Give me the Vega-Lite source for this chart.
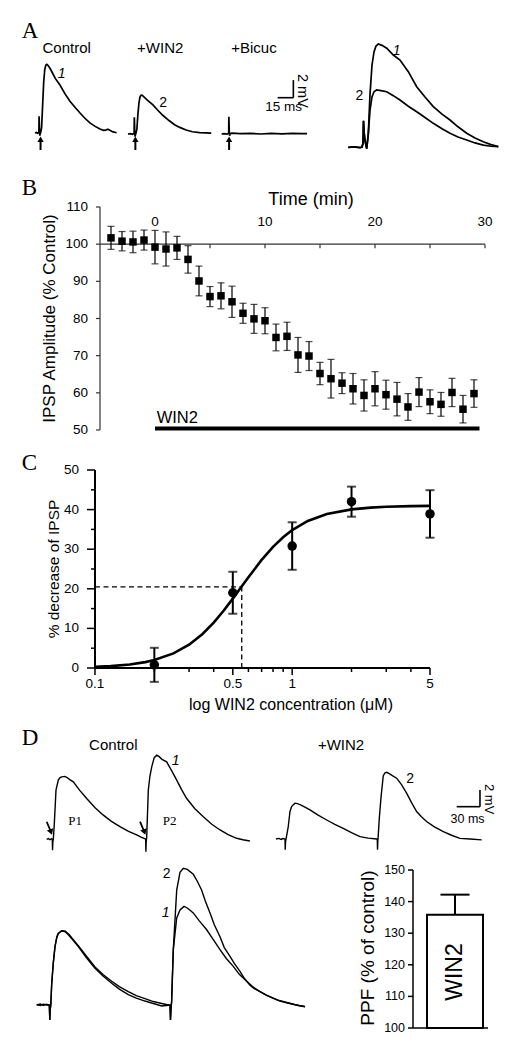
{
"$schema": "https://vega.github.io/schema/vega-lite/v6.json",
"padding": 0,
"background": "white",
"config": {"view": {"stroke": null}, "font": "Liberation Sans", "text": {"font": "Liberation Sans", "color": "black"}},
"datasets": {
  "a1": [{"t":-4.3,"v":0},{"t":-3,"v":0.05},{"t":-2,"v":-0.03},{"t":-1,"v":0.03},{"t":-0.6,"v":0.1},{"t":-0.4,"v":1.9},{"t":-0.2,"v":1.2},{"t":0,"v":0.3},{"t":0.3,"v":-0.3},{"t":0.7,"v":-0.1},{"t":1.2,"v":0.1},{"t":2,"v":0.6},{"t":3,"v":3.2},{"t":4,"v":5.8},{"t":5,"v":7.2},{"t":6,"v":7.7},{"t":7,"v":7.8},{"t":8,"v":7.7},{"t":10,"v":7.35},{"t":12,"v":6.9},{"t":15,"v":6.2},{"t":19.5,"v":5.45},{"t":24,"v":4.5},{"t":29,"v":3.6},{"t":34,"v":2.9},{"t":38.6,"v":2.27},{"t":43,"v":1.7},{"t":48,"v":1.14},{"t":53,"v":0.75},{"t":57.6,"v":0.45},{"t":61,"v":0.3},{"t":63,"v":0.32},{"t":65,"v":0.42},{"t":67,"v":0.3},{"t":70,"v":0.12},{"t":73.5,"v":0.03}],
  "a2": [{"t":-6.5,"v":0},{"t":-4,"v":0.03},{"t":-2,"v":-0.03},{"t":-0.6,"v":0.1},{"t":-0.4,"v":1.9},{"t":-0.2,"v":1.2},{"t":0,"v":0.3},{"t":0.3,"v":-0.3},{"t":0.7,"v":-0.1},{"t":1.2,"v":0.1},{"t":2,"v":0.5},{"t":3,"v":2.2},{"t":4,"v":3.5},{"t":5,"v":4.2},{"t":6,"v":4.4},{"t":7,"v":4.42},{"t":9,"v":4.2},{"t":12,"v":3.85},{"t":17.4,"v":3.3},{"t":22,"v":2.7},{"t":27,"v":2.1},{"t":33,"v":1.5},{"t":38,"v":1.05},{"t":43,"v":0.75},{"t":49,"v":0.45},{"t":55,"v":0.25},{"t":62,"v":0.15},{"t":68,"v":0.12},{"t":73,"v":0.1}],
  "a3": [{"t":-7.3,"v":0},{"t":-5,"v":0.05},{"t":-2,"v":-0.02},{"t":-0.6,"v":0.1},{"t":-0.4,"v":1.95},{"t":-0.2,"v":1.0},{"t":0,"v":0.2},{"t":0.3,"v":-0.2},{"t":0.7,"v":0.05},{"t":3,"v":0.1},{"t":10,"v":0.05},{"t":20,"v":0.08},{"t":30,"v":0.0},{"t":40,"v":0.06},{"t":50,"v":0.02},{"t":60,"v":0.07},{"t":70,"v":0.04},{"t":74,"v":0.05}],
  "a4": [
    {"trace":"1","t":-7.85,"v":0},{"trace":"1","t":-5,"v":0.03},{"trace":"1","t":-2,"v":-0.03},{"trace":"1","t":-1,"v":0.02},{"trace":"1","t":-0.5,"v":0.3},{"trace":"1","t":-0.25,"v":2.0},{"trace":"1","t":0,"v":1.2},{"trace":"1","t":0.5,"v":0.5},{"trace":"1","t":1.35,"v":-0.1},{"trace":"1","t":2.15,"v":1.0},{"trace":"1","t":3,"v":4.0},{"trace":"1","t":4,"v":6.2},{"trace":"1","t":5,"v":7.2},{"trace":"1","t":6,"v":7.65},{"trace":"1","t":7.15,"v":7.8},{"trace":"1","t":9,"v":7.7},{"trace":"1","t":11.35,"v":7.48},{"trace":"1","t":14.65,"v":6.97},{"trace":"1","t":18,"v":6.59},{"trace":"1","t":22.15,"v":5.71},{"trace":"1","t":26.35,"v":4.58},{"trace":"1","t":30.5,"v":3.8},{"trace":"1","t":34.65,"v":3.07},{"trace":"1","t":39,"v":2.5},{"trace":"1","t":43,"v":2.06},{"trace":"1","t":47,"v":1.55},{"trace":"1","t":51.35,"v":1.06},{"trace":"1","t":55.5,"v":0.7},{"trace":"1","t":59.65,"v":0.42},{"trace":"1","t":63.5,"v":0.2},{"trace":"1","t":67.15,"v":0.05},
    {"trace":"2","t":-7.85,"v":0},{"trace":"2","t":-5,"v":0.03},{"trace":"2","t":-2,"v":-0.03},{"trace":"2","t":-1,"v":0.02},{"trace":"2","t":-0.5,"v":0.3},{"trace":"2","t":-0.25,"v":2.0},{"trace":"2","t":0,"v":1.2},{"trace":"2","t":0.5,"v":0.5},{"trace":"2","t":1.35,"v":-0.1},{"trace":"2","t":2.15,"v":1.0},{"trace":"2","t":3,"v":2.8},{"trace":"2","t":4,"v":3.8},{"trace":"2","t":5,"v":4.2},{"trace":"2","t":6.3,"v":4.33},{"trace":"2","t":8.5,"v":4.28},{"trace":"2","t":11.35,"v":4.2},{"trace":"2","t":14.65,"v":3.9},{"trace":"2","t":18,"v":3.57},{"trace":"2","t":22.15,"v":3.1},{"trace":"2","t":26.35,"v":2.69},{"trace":"2","t":30.5,"v":2.25},{"trace":"2","t":34.65,"v":1.81},{"trace":"2","t":39,"v":1.4},{"trace":"2","t":43,"v":1.06},{"trace":"2","t":47,"v":0.78},{"trace":"2","t":51.35,"v":0.55},{"trace":"2","t":55.5,"v":0.33},{"trace":"2","t":59.65,"v":0.17},{"trace":"2","t":63.5,"v":0.08},{"trace":"2","t":67.15,"v":0.05}],
  "tc": [{"t":-4,"v":101.7,"e":3.1},{"t":-3,"v":100.8,"e":2.6},{"t":-2,"v":100.6,"e":2.9},{"t":-1,"v":101.1,"e":2.7},{"t":0,"v":99.2,"e":4.5},{"t":1,"v":98.7,"e":4.6},{"t":2,"v":99.0,"e":3.1},{"t":3,"v":95.9,"e":3.7},{"t":4,"v":90.1,"e":4.0},{"t":5,"v":85.9,"e":2.7},{"t":6,"v":86.1,"e":3.5},{"t":7,"v":84.5,"e":4.2},{"t":8,"v":81.4,"e":2.7},{"t":9,"v":79.9,"e":3.9},{"t":10,"v":79.4,"e":3.5},{"t":11,"v":74.9,"e":3.6},{"t":12,"v":75.2,"e":3.8},{"t":13,"v":70.2,"e":4.7},{"t":14,"v":69.9,"e":3.9},{"t":15,"v":65.2,"e":3.0},{"t":16,"v":63.8,"e":5.2},{"t":17,"v":62.6,"e":2.8},{"t":18,"v":61.1,"e":4.1},{"t":19,"v":59.3,"e":4.2},{"t":20,"v":61.1,"e":4.6},{"t":21,"v":59.5,"e":3.9},{"t":22,"v":58.3,"e":4.5},{"t":23,"v":56.2,"e":3.6},{"t":24,"v":60.2,"e":3.9},{"t":25,"v":57.6,"e":3.2},{"t":26,"v":56.9,"e":3.2},{"t":27,"v":60.1,"e":3.8},{"t":28,"v":55.6,"e":3.7},{"t":29,"v":59.8,"e":3.7}],
  "bTicksY": [{"v":50,"t":-5.3636,"t2":-5,"tl":-6.0909},{"v":60,"t":-5.3636,"t2":-5,"tl":-6.0909},{"v":70,"t":-5.3636,"t2":-5,"tl":-6.0909},{"v":80,"t":-5.3636,"t2":-5,"tl":-6.0909},{"v":90,"t":-5.3636,"t2":-5,"tl":-6.0909},{"v":100,"t":-5.3636,"t2":-5,"tl":-6.0909},{"v":110,"t":-5.3636,"t2":-5,"tl":-6.0909}],
  "bTicksX": [{"t":0,"v":100,"v2":98.92},{"t":5,"v":100,"v2":98.92},{"t":10,"v":100,"v2":98.92},{"t":15,"v":100,"v2":98.92},{"t":20,"v":100,"v2":98.92},{"t":25,"v":100,"v2":98.92},{"t":30,"v":100,"v2":98.92}],
  "bLabX": [{"t":0,"v":104.89},{"t":10,"v":104.89},{"t":20,"v":104.89},{"t":30,"v":104.89}],
  "cpts": [{"c":0.2,"v":0.8,"e":4.3},{"c":0.5,"v":19,"e":5.3},{"c":1,"v":30.8,"e":6},{"c":2,"v":42,"e":3.8},{"c":5,"v":38.9,"e":6}],
  "ccurve": [{"c":0.1,"v":0.28},{"c":0.12,"v":0.47},{"c":0.15,"v":0.89},{"c":0.18,"v":1.49},{"c":0.2,"v":2.0},{"c":0.25,"v":3.68},{"c":0.3,"v":5.89},{"c":0.35,"v":8.54},{"c":0.4,"v":11.47},{"c":0.45,"v":14.51},{"c":0.5,"v":17.51},{"c":0.553,"v":20.5},{"c":0.6,"v":22.93},{"c":0.7,"v":27.29},{"c":0.8,"v":30.59},{"c":0.9,"v":33.03},{"c":1.0,"v":34.83},{"c":1.2,"v":37.13},{"c":1.5,"v":38.89},{"c":2.0,"v":40.06},{"c":2.5,"v":40.5},{"c":3,"v":40.71},{"c":4,"v":40.87},{"c":5,"v":40.93}],
  "cYmaj": [{"v":0,"c":0.09108,"c2":0.1,"cl":0.08295},{"v":10,"c":0.09108,"c2":0.1,"cl":0.08295},{"v":20,"c":0.09108,"c2":0.1,"cl":0.08295},{"v":30,"c":0.09108,"c2":0.1,"cl":0.08295},{"v":40,"c":0.09108,"c2":0.1,"cl":0.08295},{"v":50,"c":0.09108,"c2":0.1,"cl":0.08295}],
  "cYmin": [{"v":5,"c":0.09544,"c2":0.1},{"v":15,"c":0.09544,"c2":0.1},{"v":25,"c":0.09544,"c2":0.1},{"v":35,"c":0.09544,"c2":0.1},{"v":45,"c":0.09544,"c2":0.1}],
  "cXmaj": [{"c":0.1,"v":0,"v2":-1.768,"vl":-4.04,"lab":"0.1"},{"c":0.5,"v":0,"v2":-1.768,"vl":-4.04,"lab":"0.5"},{"c":1,"v":0,"v2":-1.768,"vl":-4.04,"lab":"1"},{"c":5,"v":0,"v2":-1.768,"vl":-4.04,"lab":"5"}],
  "cXmin": [{"c":0.2,"v":0,"v2":-1.01},{"c":0.3,"v":0,"v2":-1.01},{"c":0.4,"v":0,"v2":-1.01},{"c":0.6,"v":0,"v2":-1.01},{"c":0.7,"v":0,"v2":-1.01},{"c":0.8,"v":0,"v2":-1.01},{"c":0.9,"v":0,"v2":-1.01},{"c":2,"v":0,"v2":-1.01},{"c":3,"v":0,"v2":-1.01},{"c":4,"v":0,"v2":-1.01}],
  "d1": [{"t":-7.2,"v":0},{"t":-5,"v":0.08},{"t":-3,"v":-0.05},{"t":-1,"v":0.05},{"t":0,"v":0},{"t":0.3,"v":-1.3},{"t":0.7,"v":-0.3},{"t":1.3,"v":0},{"t":2.6,"v":1.9},{"t":4.75,"v":5.9},{"t":7.7,"v":7.1},{"t":10,"v":7.4},{"t":12.1,"v":7.5},{"t":16,"v":7.55},{"t":18.5,"v":7.45},{"t":22,"v":7.2},{"t":27,"v":6.9},{"t":35,"v":5.9},{"t":44.2,"v":4.9},{"t":55,"v":3.8},{"t":65.6,"v":2.9},{"t":76,"v":2.15},{"t":87,"v":1.52},{"t":98,"v":0.95},{"t":108.5,"v":0.52},{"t":114,"v":0.25},{"t":119.4,"v":0.05},{"t":120,"v":0},{"t":120.3,"v":-1.5},{"t":120.7,"v":-0.3},{"t":121.3,"v":0.2},{"t":123.4,"v":5.9},{"t":125.5,"v":7.6},{"t":127.8,"v":8.7},{"t":131,"v":9.8},{"t":134.2,"v":10.1},{"t":137,"v":9.95},{"t":141,"v":9.6},{"t":147,"v":9.3},{"t":153,"v":8.3},{"t":159.9,"v":7.1},{"t":166,"v":6.0},{"t":172.8,"v":4.9},{"t":183,"v":3.7},{"t":194.1,"v":2.7},{"t":205,"v":1.8},{"t":215.6,"v":1.12},{"t":226,"v":0.55},{"t":237,"v":0.12},{"t":245,"v":-0.05},{"t":254,"v":-0.2}],
  "d2": [{"t":-11.6,"v":0},{"t":-8,"v":0.07},{"t":-5,"v":-0.05},{"t":-2.6,"v":0.05},{"t":0,"v":0},{"t":0.3,"v":-1.3},{"t":0.7,"v":-0.3},{"t":1.3,"v":0},{"t":2.5,"v":0.6},{"t":4.2,"v":1.5},{"t":6.4,"v":3.3},{"t":8.5,"v":3.9},{"t":10.7,"v":4.1},{"t":12.9,"v":4.3},{"t":16,"v":4.25},{"t":20,"v":4.1},{"t":25,"v":3.85},{"t":32.1,"v":3.5},{"t":42,"v":2.9},{"t":53.6,"v":2.28},{"t":64,"v":1.75},{"t":74.9,"v":1.28},{"t":86,"v":0.75},{"t":96.4,"v":0.28},{"t":107,"v":0.1},{"t":117.8,"v":0},{"t":118.6,"v":0},{"t":118.9,"v":-1.3},{"t":119.3,"v":-0.3},{"t":119.9,"v":0.5},{"t":121.2,"v":2.5},{"t":123.4,"v":5.0},{"t":126.3,"v":7.6},{"t":128.5,"v":7.95},{"t":130.7,"v":8.0},{"t":134,"v":7.85},{"t":138,"v":7.6},{"t":143.5,"v":7.3},{"t":150,"v":6.5},{"t":156.3,"v":5.5},{"t":163,"v":4.3},{"t":169.2,"v":3.3},{"t":175,"v":2.7},{"t":182,"v":2.1},{"t":192,"v":1.45},{"t":203.5,"v":0.88},{"t":214,"v":0.45},{"t":224.9,"v":0.08},{"t":238,"v":0.0},{"t":252.8,"v":-0.1}],
  "d3": [
    {"trace":"1","t":-12.6,"v":0},{"trace":"1","t":-9,"v":0.1},{"trace":"1","t":-6,"v":-0.05},{"trace":"1","t":-3,"v":0.08},{"trace":"1","t":0,"v":0},{"trace":"1","t":0.5,"v":-1.5},{"trace":"1","t":1,"v":-0.4},{"trace":"1","t":1.5,"v":0},{"trace":"1","t":2.4,"v":2.2},{"trace":"1","t":4,"v":4.3},{"trace":"1","t":5.7,"v":5.9},{"trace":"1","t":7.5,"v":6.8},{"trace":"1","t":9,"v":7.2},{"trace":"1","t":12.4,"v":7.5},{"trace":"1","t":16,"v":7.4},{"trace":"1","t":20,"v":7.0},{"trace":"1","t":24,"v":6.5},{"trace":"1","t":29,"v":5.9},{"trace":"1","t":37,"v":4.8},{"trace":"1","t":45.7,"v":3.7},{"trace":"1","t":54,"v":2.9},{"trace":"1","t":62.4,"v":2.2},{"trace":"1","t":70,"v":1.6},{"trace":"1","t":79,"v":1.05},{"trace":"1","t":87,"v":0.7},{"trace":"1","t":95.7,"v":0.4},{"trace":"1","t":104,"v":0.15},{"trace":"1","t":112.4,"v":-0.1},{"trace":"1","t":117,"v":-0.05},{"trace":"1","t":120.7,"v":0},{"trace":"1","t":121.2,"v":-1.5},{"trace":"1","t":121.7,"v":-0.4},{"trace":"1","t":122.3,"v":0.3},{"trace":"1","t":124,"v":5.6},{"trace":"1","t":127.4,"v":8.8},{"trace":"1","t":130.7,"v":9.6},{"trace":"1","t":134.7,"v":9.96},{"trace":"1","t":138,"v":9.8},{"trace":"1","t":144,"v":9.3},{"trace":"1","t":150,"v":8.5},{"trace":"1","t":157.4,"v":7.6},{"trace":"1","t":164,"v":6.6},{"trace":"1","t":170.7,"v":5.6},{"trace":"1","t":177,"v":4.7},{"trace":"1","t":184,"v":3.9},{"trace":"1","t":190,"v":3.1},{"trace":"1","t":197.4,"v":2.4},{"trace":"1","t":204,"v":1.8},{"trace":"1","t":210.7,"v":1.35},{"trace":"1","t":217,"v":1.0},{"trace":"1","t":224,"v":0.7},{"trace":"1","t":230,"v":0.45},{"trace":"1","t":237.4,"v":0.25},{"trace":"1","t":245,"v":0.05},{"trace":"1","t":250,"v":-0.05},{"trace":"1","t":255.7,"v":-0.15},
    {"trace":"2","t":-12.6,"v":0.05},{"trace":"2","t":-9,"v":-0.05},{"trace":"2","t":-6,"v":0.08},{"trace":"2","t":-3,"v":0},{"trace":"2","t":0,"v":0},{"trace":"2","t":0.5,"v":-1.5},{"trace":"2","t":1,"v":-0.4},{"trace":"2","t":1.5,"v":0},{"trace":"2","t":2.4,"v":2.1},{"trace":"2","t":4,"v":4.2},{"trace":"2","t":5.7,"v":5.9},{"trace":"2","t":7.5,"v":6.9},{"trace":"2","t":9,"v":7.25},{"trace":"2","t":12.4,"v":7.5},{"trace":"2","t":16,"v":7.45},{"trace":"2","t":20,"v":7.1},{"trace":"2","t":24,"v":6.6},{"trace":"2","t":29,"v":6.0},{"trace":"2","t":37,"v":4.95},{"trace":"2","t":45.7,"v":3.85},{"trace":"2","t":54,"v":3.05},{"trace":"2","t":62.4,"v":2.4},{"trace":"2","t":70,"v":1.85},{"trace":"2","t":79,"v":1.35},{"trace":"2","t":87,"v":0.95},{"trace":"2","t":95.7,"v":0.65},{"trace":"2","t":104,"v":0.35},{"trace":"2","t":112.4,"v":0.15},{"trace":"2","t":117,"v":0.05},{"trace":"2","t":120.7,"v":0},{"trace":"2","t":121.2,"v":-1.5},{"trace":"2","t":121.7,"v":-0.4},{"trace":"2","t":122.3,"v":0.3},{"trace":"2","t":124,"v":5.6},{"trace":"2","t":127.4,"v":11.6},{"trace":"2","t":130.7,"v":13.4},{"trace":"2","t":134,"v":13.8},{"trace":"2","t":138,"v":13.7},{"trace":"2","t":144,"v":13.2},{"trace":"2","t":148,"v":12.5},{"trace":"2","t":152.4,"v":11.6},{"trace":"2","t":156,"v":10.5},{"trace":"2","t":160.7,"v":9.3},{"trace":"2","t":165,"v":8.1},{"trace":"2","t":170.7,"v":6.9},{"trace":"2","t":175,"v":5.8},{"trace":"2","t":180.7,"v":4.9},{"trace":"2","t":185,"v":4.2},{"trace":"2","t":190.7,"v":3.4},{"trace":"2","t":195,"v":2.7},{"trace":"2","t":200.7,"v":2.0},{"trace":"2","t":205,"v":1.65},{"trace":"2","t":210.7,"v":1.35},{"trace":"2","t":217,"v":1.0},{"trace":"2","t":224,"v":0.68},{"trace":"2","t":230,"v":0.42},{"trace":"2","t":237.4,"v":0.23},{"trace":"2","t":245,"v":0.05},{"trace":"2","t":250,"v":-0.08},{"trace":"2","t":255.7,"v":-0.17}],
  "ppf": [{"cond":"WIN2","ppf":135.8,"hi":142.2}],
  "dTicks": [{"v":100,"pos":-0.3393,"pos2":-0.25,"pl":-0.3929},{"v":110,"pos":-0.3393,"pos2":-0.25,"pl":-0.3929},{"v":120,"pos":-0.3393,"pos2":-0.25,"pl":-0.3929},{"v":130,"pos":-0.3393,"pos2":-0.25,"pl":-0.3929},{"v":140,"pos":-0.3393,"pos2":-0.25,"pl":-0.3929},{"v":150,"pos":-0.3393,"pos2":-0.25,"pl":-0.3929}]
},
"bounds": "flush",
"spacing": 0,
"vconcat": [
  {"width": 514, "height": 207,
   "resolve": {"scale": {"x": "independent", "y": "independent"}},
   "layer": [
    {"encoding": {"x": {"field": "t", "type": "quantitative", "scale": {"domain": [-37.62, 451.90], "nice": false, "zero": false}, "axis": null},
                  "y": {"field": "v", "type": "quantitative", "scale": {"domain": [-8.41, 15.11], "nice": false, "zero": false}, "axis": null}},
     "layer": [
       {"data": {"name": "a1"}, "mark": {"type": "line", "color": "black", "strokeWidth": 1.7}},
       {"data": {"values": [{"label": "A", "t": -16.95, "v": 10.8}]}, "mark": {"type": "text", "font": "Liberation Serif", "fontSize": 23, "align": "left", "baseline": "alphabetic"}, "encoding": {"text": {"field": "label"}}},
       {"data": {"values": [{"label": "Control", "t": 25.9, "v": 9.05}]}, "mark": {"type": "text", "fontSize": 15, "align": "center", "baseline": "alphabetic"}, "encoding": {"text": {"field": "label"}}},
       {"data": {"values": [{"label": "1", "t": 21.1, "v": 6.3}]}, "mark": {"type": "text", "fontSize": 14, "fontStyle": "italic", "align": "center", "baseline": "alphabetic"}, "encoding": {"text": {"field": "label"}}},
       {"data": {"values": [{"t": 1, "v": -0.75, "v2": -1.93}]}, "mark": {"type": "rule", "strokeWidth": 2, "color": "black"}, "encoding": {"y2": {"field": "v2"}}},
       {"data": {"values": [{"t": 1, "v": -0.7}]}, "mark": {"type": "point", "shape": "triangle-up", "filled": true, "size": 40, "color": "black", "opacity": 1}}
     ]},
    {"encoding": {"x": {"field": "t", "type": "quantitative", "scale": {"domain": [-128.57, 361.90], "nice": false, "zero": false}, "axis": null},
                  "y": {"field": "v", "type": "quantitative", "scale": {"domain": [-8.30, 15.23], "nice": false, "zero": false}, "axis": null}},
     "layer": [
       {"data": {"name": "a2"}, "mark": {"type": "line", "color": "black", "strokeWidth": 1.7}},
       {"data": {"values": [{"label": "+WIN2", "t": 24.3, "v": 9.17}]}, "mark": {"type": "text", "fontSize": 15, "align": "center", "baseline": "alphabetic"}, "encoding": {"text": {"field": "label"}}},
       {"data": {"values": [{"label": "2", "t": 27, "v": 3.1}]}, "mark": {"type": "text", "fontSize": 14, "align": "center", "baseline": "alphabetic"}, "encoding": {"text": {"field": "label"}}},
       {"data": {"values": [{"t": 0.6, "v": -0.7, "v2": -1.82}]}, "mark": {"type": "rule", "strokeWidth": 2, "color": "black"}, "encoding": {"y2": {"field": "v2"}}},
       {"data": {"values": [{"t": 0.6, "v": -0.6}]}, "mark": {"type": "point", "shape": "triangle-up", "filled": true, "size": 40, "color": "black", "opacity": 1}}
     ]},
    {"encoding": {"x": {"field": "t", "type": "quantitative", "scale": {"domain": [-218.38, 271.14], "nice": false, "zero": false}, "axis": null},
                  "y": {"field": "v", "type": "quantitative", "scale": {"domain": [-8.30, 15.23], "nice": false, "zero": false}, "axis": null}},
     "layer": [
       {"data": {"name": "a3"}, "mark": {"type": "line", "color": "black", "strokeWidth": 1.7}},
       {"data": {"values": [{"label": "+Bicuc", "t": 23.5, "v": 9.17}]}, "mark": {"type": "text", "fontSize": 15, "align": "center", "baseline": "alphabetic"}, "encoding": {"text": {"field": "label"}}},
       {"data": {"values": [{"t": -0.2, "v": -0.7, "v2": -1.82}]}, "mark": {"type": "rule", "strokeWidth": 2, "color": "black"}, "encoding": {"y2": {"field": "v2"}}},
       {"data": {"values": [{"t": -0.2, "v": -0.6}]}, "mark": {"type": "point", "shape": "triangle-up", "filled": true, "size": 40, "color": "black", "opacity": 1}},
       {"data": {"values": [{"t": 46, "t2": 61, "v": 4.125}]}, "mark": {"type": "rule", "strokeWidth": 1.6, "color": "black"}, "encoding": {"x2": {"field": "t2"}}},
       {"data": {"values": [{"t": 61, "v": 4.125, "v2": 6.125}]}, "mark": {"type": "rule", "strokeWidth": 1.6, "color": "black"}, "encoding": {"y2": {"field": "v2"}}},
       {"data": {"values": [{"label": "15 ms", "t": 51.8, "v": 3.1}]}, "mark": {"type": "text", "fontSize": 13.5, "align": "center", "baseline": "middle"}, "encoding": {"text": {"field": "label"}}},
       {"data": {"values": [{"label": "2 mV", "t": 68.95, "v": 4.9}]}, "mark": {"type": "text", "fontSize": 14.5, "angle": 90, "align": "center", "baseline": "middle"}, "encoding": {"text": {"field": "label"}}}
     ]},
    {"encoding": {"x": {"field": "t", "type": "quantitative", "scale": {"domain": [-182, 75], "nice": false, "zero": false}, "axis": null},
                  "y": {"field": "v", "type": "quantitative", "scale": {"domain": [-4.509, 11.125], "nice": false, "zero": false}, "axis": null}},
     "layer": [
       {"data": {"name": "a4"}, "mark": {"type": "line", "color": "black", "strokeWidth": 1.7}, "encoding": {"detail": {"field": "trace"}}},
       {"data": {"values": [{"label": "1", "t": 16.35, "v": 6.97}]}, "mark": {"type": "text", "fontSize": 14, "fontStyle": "italic", "align": "center", "baseline": "alphabetic"}, "encoding": {"text": {"field": "label"}}},
       {"data": {"values": [{"label": "2", "t": -2.35, "v": 3.57}]}, "mark": {"type": "text", "fontSize": 14, "align": "center", "baseline": "alphabetic"}, "encoding": {"text": {"field": "label"}}}
     ]}
   ]},

  {"width": 514, "height": 223,
   "encoding": {"x": {"field": "t", "type": "quantitative", "scale": {"domain": [-14.0909, 32.6364], "nice": false, "zero": false}, "axis": null},
                "y": {"field": "v", "type": "quantitative", "scale": {"domain": [50, 110], "nice": false, "zero": false}, "axis": null}},
   "layer": [
     {"data": {"values": [{"t": -5, "v": 50, "v2": 110}]}, "mark": {"type": "rule", "strokeWidth": 1.2, "color": "#333"}, "encoding": {"y2": {"field": "v2"}}},
     {"data": {"values": [{"t": -5, "t2": 30, "v": 100}]}, "mark": {"type": "rule", "strokeWidth": 1.2, "color": "#333"}, "encoding": {"x2": {"field": "t2"}}},
     {"data": {"name": "bTicksY"}, "mark": {"type": "rule", "strokeWidth": 1.2, "color": "#333"}, "encoding": {"x2": {"field": "t2"}}},
     {"data": {"name": "bTicksY"}, "mark": {"type": "text", "fontSize": 13.5, "align": "right", "baseline": "middle"}, "encoding": {"x": {"field": "tl", "type": "quantitative"}, "text": {"field": "v", "type": "quantitative"}}},
     {"data": {"name": "bTicksX"}, "mark": {"type": "rule", "strokeWidth": 1.2, "color": "#333"}, "encoding": {"y2": {"field": "v2"}}},
     {"data": {"name": "bLabX"}, "mark": {"type": "text", "fontSize": 13.5, "align": "center", "baseline": "alphabetic"}, "encoding": {"text": {"field": "t", "type": "quantitative"}}},
     {"data": {"values": [{"label": "Time (min)", "t": 14.18, "v": 110.54}]}, "mark": {"type": "text", "fontSize": 18, "align": "center", "baseline": "alphabetic"}, "encoding": {"text": {"field": "label"}}},
     {"data": {"values": [{"label": "IPSP Amplitude (% Control)", "t": -9.064, "v": 80}]}, "mark": {"type": "text", "fontSize": 17, "angle": 270, "align": "center", "baseline": "alphabetic"}, "encoding": {"text": {"field": "label"}}},
     {"data": {"name": "tc"}, "mark": {"type": "errorbar", "ticks": true, "size": 7, "thickness": 1.2, "color": "black"}, "encoding": {"yError": {"field": "e"}}},
     {"data": {"name": "tc"}, "mark": {"type": "point", "shape": "square", "filled": true, "size": 56, "color": "black", "opacity": 1}},
     {"data": {"values": [{"t": 0, "t2": 29.5, "v": 50.4}]}, "mark": {"type": "rule", "strokeWidth": 4, "color": "black"}, "encoding": {"x2": {"field": "t2"}}},
     {"data": {"values": [{"label": "WIN2", "t": 0.15, "v": 51.8}]}, "mark": {"type": "text", "fontSize": 16.5, "align": "left", "baseline": "alphabetic"}, "encoding": {"text": {"field": "label"}}},
     {"data": {"values": [{"label": "B", "t": -12.12, "v": 113.23}]}, "mark": {"type": "text", "font": "Liberation Serif", "fontSize": 23, "align": "left", "baseline": "alphabetic"}, "encoding": {"text": {"field": "label"}}}
   ]},

  {"width": 514, "height": 40, "data": {"values": [{}]}, "mark": {"type": "point", "opacity": 0}},

  {"width": 514, "height": 198,
   "encoding": {"x": {"field": "c", "type": "quantitative", "scale": {"type": "log", "domain": [0.032984, 13.335], "nice": false}, "axis": null},
                "y": {"field": "v", "type": "quantitative", "scale": {"domain": [0, 50], "nice": false, "zero": false}, "axis": null}},
   "layer": [
     {"data": {"values": [{"c": 0.1, "v": 0, "v2": 50}]}, "mark": {"type": "rule", "strokeWidth": 2, "color": "black"}, "encoding": {"y2": {"field": "v2"}}},
     {"data": {"values": [{"c": 0.1, "c2": 5, "v": 0}]}, "mark": {"type": "rule", "strokeWidth": 2, "color": "black"}, "encoding": {"x2": {"field": "c2"}}},
     {"data": {"name": "cYmaj"}, "mark": {"type": "rule", "strokeWidth": 1.5, "color": "black"}, "encoding": {"x2": {"field": "c2"}}},
     {"data": {"name": "cYmin"}, "mark": {"type": "rule", "strokeWidth": 1.5, "color": "black"}, "encoding": {"x2": {"field": "c2"}}},
     {"data": {"name": "cYmaj"}, "mark": {"type": "text", "fontSize": 13.5, "align": "right", "baseline": "middle"}, "encoding": {"x": {"field": "cl", "type": "quantitative"}, "text": {"field": "v", "type": "quantitative"}}},
     {"data": {"name": "cXmaj"}, "mark": {"type": "rule", "strokeWidth": 1.5, "color": "black"}, "encoding": {"y2": {"field": "v2"}}},
     {"data": {"name": "cXmin"}, "mark": {"type": "rule", "strokeWidth": 1.5, "color": "black"}, "encoding": {"y2": {"field": "v2"}}},
     {"data": {"name": "cXmaj"}, "mark": {"type": "text", "fontSize": 13.5, "align": "center", "baseline": "middle"}, "encoding": {"y": {"field": "vl", "type": "quantitative"}, "text": {"field": "lab", "type": "nominal"}}},
     {"data": {"values": [{"label": "log WIN2 concentration (μM)", "c": 0.98633, "v": -10.61}]}, "mark": {"type": "text", "fontSize": 16, "align": "center", "baseline": "alphabetic"}, "encoding": {"text": {"field": "label"}}},
     {"data": {"values": [{"label": "% decrease of IPSP", "c": 0.06592, "v": 25}]}, "mark": {"type": "text", "fontSize": 15.5, "angle": 270, "align": "center", "baseline": "alphabetic"}, "encoding": {"text": {"field": "label"}}},
     {"data": {"values": [{"c": 0.1, "c2": 0.555, "v": 20.5}]}, "mark": {"type": "rule", "strokeDash": [5, 3.5], "strokeWidth": 1.3, "color": "black"}, "encoding": {"x2": {"field": "c2"}}},
     {"data": {"values": [{"c": 0.555, "v": 0, "v2": 20.5}]}, "mark": {"type": "rule", "strokeDash": [5, 3.5], "strokeWidth": 1.3, "color": "black"}, "encoding": {"y2": {"field": "v2"}}},
     {"data": {"name": "ccurve"}, "mark": {"type": "line", "color": "black", "strokeWidth": 2.6}},
     {"data": {"name": "cpts"}, "mark": {"type": "errorbar", "ticks": true, "size": 9, "thickness": 2, "color": "black"}, "encoding": {"yError": {"field": "e"}}},
     {"data": {"name": "cpts"}, "mark": {"type": "point", "shape": "circle", "filled": true, "size": 90, "color": "black", "opacity": 1}},
     {"data": {"values": [{"label": "C", "c": 0.0425, "v": 50}]}, "mark": {"type": "text", "font": "Liberation Serif", "fontSize": 23, "align": "left", "baseline": "alphabetic"}, "encoding": {"text": {"field": "label"}}}
   ]},

  {"width": 514, "height": 202,
   "resolve": {"scale": {"x": "independent", "y": "independent"}},
   "layer": [
    {"encoding": {"x": {"field": "t", "type": "quantitative", "scale": {"domain": [-67.224, 593.44], "nice": false, "zero": false}, "axis": null},
                  "y": {"field": "v", "type": "quantitative", "scale": {"domain": [-3.685, 20.565], "nice": false, "zero": false}, "axis": null}},
     "layer": [
       {"data": {"name": "d1"}, "mark": {"type": "line", "color": "black", "strokeWidth": 1.4}},
       {"data": {"values": [{"label": "D", "t": -39.33, "v": 11.32}]}, "mark": {"type": "text", "font": "Liberation Serif", "fontSize": 23, "align": "left", "baseline": "alphabetic"}, "encoding": {"text": {"field": "label"}}},
       {"data": {"values": [{"label": "Control", "t": 78.4, "v": 10.78}]}, "mark": {"type": "text", "fontSize": 15, "align": "center", "baseline": "alphabetic"}, "encoding": {"text": {"field": "label"}}},
       {"data": {"values": [{"label": "P1", "t": 29.2, "v": 1.72}, {"label": "P2", "t": 150.9, "v": 1.72}]}, "mark": {"type": "text", "font": "Liberation Serif", "fontSize": 13, "align": "center", "baseline": "alphabetic"}, "encoding": {"text": {"field": "label"}}},
       {"data": {"values": [{"label": "1", "t": 158.6, "v": 8.92}]}, "mark": {"type": "text", "fontSize": 14, "fontStyle": "italic", "align": "center", "baseline": "alphabetic"}, "encoding": {"text": {"field": "label"}}},
       {"data": {"values": [{"t": -7.2, "t2": -1.67, "v": 2.11, "v2": 0.876}, {"t": 112.72, "t2": 118.38, "v": 2.11, "v2": 0.876}]}, "mark": {"type": "rule", "strokeWidth": 1.8, "color": "black"}, "encoding": {"x2": {"field": "t2"}, "y2": {"field": "v2"}}},
       {"data": {"values": [{"t": -1.67, "v": 0.876}, {"t": 118.38, "v": 0.876}]}, "mark": {"type": "point", "shape": "triangle-down", "angle": 340, "filled": true, "size": 45, "color": "black", "opacity": 1}}
     ]},
    {"encoding": {"x": {"field": "t", "type": "quantitative", "scale": {"domain": [-366.32, 294.34], "nice": false, "zero": false}, "axis": null},
                  "y": {"field": "v", "type": "quantitative", "scale": {"domain": [-3.721, 20.528], "nice": false, "zero": false}, "axis": null}},
     "layer": [
       {"data": {"name": "d2"}, "mark": {"type": "line", "color": "black", "strokeWidth": 1.4}},
       {"data": {"values": [{"label": "+WIN2", "t": 71.98, "v": 10.74}]}, "mark": {"type": "text", "fontSize": 15, "align": "center", "baseline": "alphabetic"}, "encoding": {"text": {"field": "label"}}},
       {"data": {"values": [{"label": "2", "t": 160.7, "v": 6.76}]}, "mark": {"type": "text", "fontSize": 14, "align": "center", "baseline": "alphabetic"}, "encoding": {"text": {"field": "label"}}},
       {"data": {"values": [{"t": 220.7, "t2": 250.6, "v": 3.88}]}, "mark": {"type": "rule", "strokeWidth": 1.6, "color": "black"}, "encoding": {"x2": {"field": "t2"}}},
       {"data": {"values": [{"t": 250.6, "v": 3.88, "v2": 5.88}]}, "mark": {"type": "rule", "strokeWidth": 1.6, "color": "black"}, "encoding": {"y2": {"field": "v2"}}},
       {"data": {"values": [{"label": "30 ms", "t": 234.6, "v": 2.4}]}, "mark": {"type": "text", "fontSize": 12.5, "align": "center", "baseline": "middle"}, "encoding": {"text": {"field": "label"}}},
       {"data": {"values": [{"label": "2 mV", "t": 261.8, "v": 4.78}]}, "mark": {"type": "text", "fontSize": 13, "angle": 90, "align": "center", "baseline": "middle"}, "encoding": {"text": {"field": "label"}}}
     ]}
   ]},

  {"width": 514, "height": 158,
   "resolve": {"scale": {"x": "independent", "y": "independent"}},
   "layer": [
    {"encoding": {"x": {"field": "t", "type": "quantitative", "scale": {"domain": [-49.3, 464.7], "nice": false, "zero": false}, "axis": null},
                  "y": {"field": "v", "type": "quantitative", "scale": {"domain": [-2.323, 13.636], "nice": false, "zero": false}, "axis": null}},
     "layer": [
       {"data": {"name": "d3"}, "mark": {"type": "line", "color": "black", "strokeWidth": 1.4}, "encoding": {"detail": {"field": "trace"}}},
       {"data": {"values": [{"label": "2", "t": 117.4, "v": 12.83}]}, "mark": {"type": "text", "fontSize": 14, "align": "center", "baseline": "alphabetic"}, "encoding": {"text": {"field": "label"}}},
       {"data": {"values": [{"label": "1", "t": 116.4, "v": 8.89}]}, "mark": {"type": "text", "fontSize": 14, "fontStyle": "italic", "align": "center", "baseline": "alphabetic"}, "encoding": {"text": {"field": "label"}}}
     ]},
    {"data": {"name": "ppf"},
     "encoding": {"x": {"field": "cond", "type": "nominal", "scale": {"paddingInner": 0.7555, "paddingOuter": 1, "align": 0.9323}, "axis": null},
                  "y": {"field": "ppf", "type": "quantitative", "scale": {"domain": [100, 150], "nice": false, "zero": false, "clamp": true}, "axis": null}},
     "layer": [
       {"mark": {"type": "rule", "strokeWidth": 2, "color": "black"}, "encoding": {"y2": {"field": "hi"}}},
       {"mark": {"type": "tick", "size": 29, "thickness": 2, "color": "black", "opacity": 1}, "encoding": {"y": {"field": "hi", "type": "quantitative"}}},
       {"mark": {"type": "bar", "fill": "white", "stroke": "black", "strokeWidth": 2, "opacity": 1}},
       {"data": {"values": [{"cond": "WIN2", "ly": 117.7}]}, "mark": {"type": "text", "fontSize": 23, "angle": 270, "align": "center", "baseline": "middle"}, "encoding": {"y": {"field": "ly", "type": "quantitative"}, "text": {"field": "cond"}}}
     ]},
    {"encoding": {"x": {"field": "pos", "type": "quantitative", "scale": {"domain": [-7.625, 1.5536], "nice": false, "zero": false}, "axis": null},
                  "y": {"field": "v", "type": "quantitative", "scale": {"domain": [100, 150], "nice": false, "zero": false}, "axis": null}},
     "layer": [
       {"data": {"values": [{"pos": -0.25, "v": 100, "v2": 150}]}, "mark": {"type": "rule", "strokeWidth": 1.5, "color": "black"}, "encoding": {"y2": {"field": "v2"}}},
       {"data": {"values": [{"pos": -0.25, "pos2": 1.0893, "v": 100}]}, "mark": {"type": "rule", "strokeWidth": 1.5, "color": "black"}, "encoding": {"x2": {"field": "pos2"}}},
       {"data": {"name": "dTicks"}, "mark": {"type": "rule", "strokeWidth": 1.5, "color": "black"}, "encoding": {"x2": {"field": "pos2"}}},
       {"data": {"name": "dTicks"}, "mark": {"type": "text", "fontSize": 12.5, "align": "right", "baseline": "middle"}, "encoding": {"x": {"field": "pl", "type": "quantitative"}, "text": {"field": "v", "type": "quantitative"}}},
       {"data": {"values": [{"label": "PPF (% of control)", "pos": -0.941, "v": 125.3}]}, "mark": {"type": "text", "fontSize": 19, "angle": 270, "align": "center", "baseline": "alphabetic"}, "encoding": {"text": {"field": "label"}}}
     ]}
   ]}
]
}
